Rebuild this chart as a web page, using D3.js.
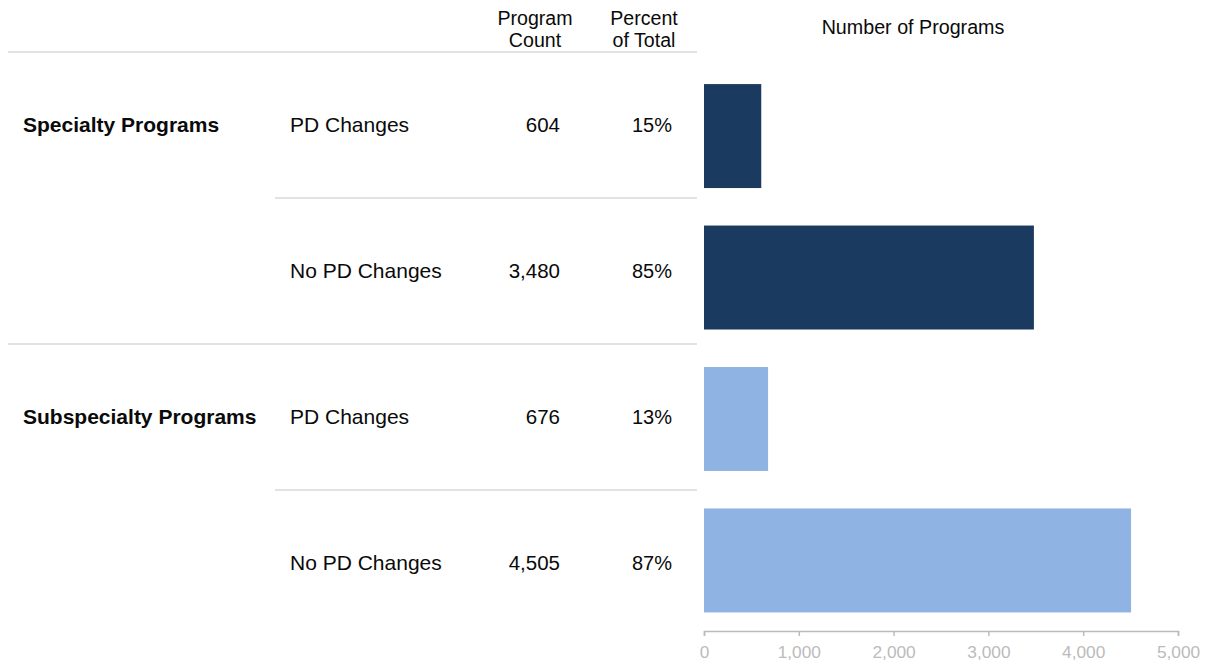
<!DOCTYPE html>
<html>
<head>
<meta charset="utf-8">
<script src="https://cdn.jsdelivr.net/npm/d3@7"></script>
<style>
  body { margin: 0; background: #fff; }
  svg { font-family: "Liberation Sans", Arial, sans-serif; }
</style>
</head>
<body>
<svg id="chart" width="1219" height="667"></svg>
<script>
const groups = ["Specialty Programs", "Subspecialty Programs"];
const changeTypes = ["PD Changes", "No PD Changes", "PD Changes", "No PD Changes"];
const rowGroup = [0, 0, 1, 1];
const counts = [604, 3480, 676, 4505];
const percents = [15, 85, 13, 87];
const xTicks = [0, 1000, 2000, 3000, 4000, 5000];
const groupColors = ["#1b3a5f", "#8fb3e3"];

const svg = d3.select("#chart");
const rows = counts.map((c, i) => i);

// table rows and bar bands
const rowY = d3.scaleBand().domain(rows).range([52, 636]);
const barY = d3.scaleBand().domain(rows).range([46.6, 649.9]).padding(0.265);
const x = d3.scaleLinear().domain([0, 5000]).range([704, 1178]);

const fmt = d3.format(",");
const textColor = "#0a0a0a";
const lineColor = "#d9d9d9";

// column headers
const headers = [
  { lines: ["Program", "Count"], cx: 535 },
  { lines: ["Percent", "of Total"], cx: 644 }
];
headers.forEach(h => {
  h.lines.forEach((t, j) => {
    svg.append("text")
      .attr("x", h.cx)
      .attr("y", 25 + j * 22)
      .attr("text-anchor", "middle")
      .attr("font-size", "19.6px")
      .attr("fill", textColor)
      .text(t);
  });
});

svg.append("text")
  .attr("x", 913)
  .attr("y", 34)
  .attr("text-anchor", "middle")
  .attr("font-size", "19.7px")
  .attr("fill", textColor)
  .text("Number of Programs");

// separators
[0, 2].forEach(i => {
  svg.append("line")
    .attr("x1", 8).attr("x2", 697)
    .attr("y1", rowY(i)).attr("y2", rowY(i))
    .attr("stroke", lineColor).attr("stroke-width", 1.5);
});
[1, 3].forEach(i => {
  svg.append("line")
    .attr("x1", 275).attr("x2", 697)
    .attr("y1", rowY(i)).attr("y2", rowY(i))
    .attr("stroke", lineColor).attr("stroke-width", 1.5);
});

// table cells
const midY = i => rowY(i) + rowY.bandwidth() / 2 + 7;

groups.forEach((g, gi) => {
  svg.append("text")
    .attr("x", 23)
    .attr("y", midY(gi * 2))
    .attr("font-size", "21px")
    .attr("font-weight", "bold")
    .attr("fill", textColor)
    .text(g);
});

rows.forEach(i => {
  svg.append("text")
    .attr("x", 290)
    .attr("y", midY(i))
    .attr("font-size", "21px")
    .attr("fill", textColor)
    .text(changeTypes[i]);

  svg.append("text")
    .attr("x", 560)
    .attr("y", midY(i))
    .attr("text-anchor", "end")
    .attr("font-size", "20.5px")
    .attr("fill", textColor)
    .text(fmt(counts[i]));

  svg.append("text")
    .attr("x", 672)
    .attr("y", midY(i))
    .attr("text-anchor", "end")
    .attr("font-size", "20px")
    .attr("fill", textColor)
    .text(percents[i] + "%");
});

// bars
svg.selectAll(".bar")
  .data(rows)
  .enter()
  .append("rect")
  .attr("class", "bar")
  .attr("x", x(0))
  .attr("y", i => barY(i))
  .attr("width", i => x(counts[i]) - x(0))
  .attr("height", barY.bandwidth())
  .attr("fill", i => groupColors[rowGroup[i]]);

// axis
const axis = svg.append("g")
  .attr("transform", "translate(0,631)")
  .call(d3.axisBottom(x).tickValues(xTicks).tickFormat(fmt).tickSize(5).tickSizeOuter(5));
axis.select(".domain").attr("stroke", "#bbb").attr("stroke-width", 1.5);
axis.selectAll(".tick line").attr("stroke", "#bbb").attr("stroke-width", 1.5);
axis.selectAll(".tick text")
  .attr("fill", "#bbb")
  .attr("font-size", "17.3px")
  .attr("font-family", "Liberation Sans, Arial, sans-serif")
  .attr("y", 15);
</script>
</body>
</html>
